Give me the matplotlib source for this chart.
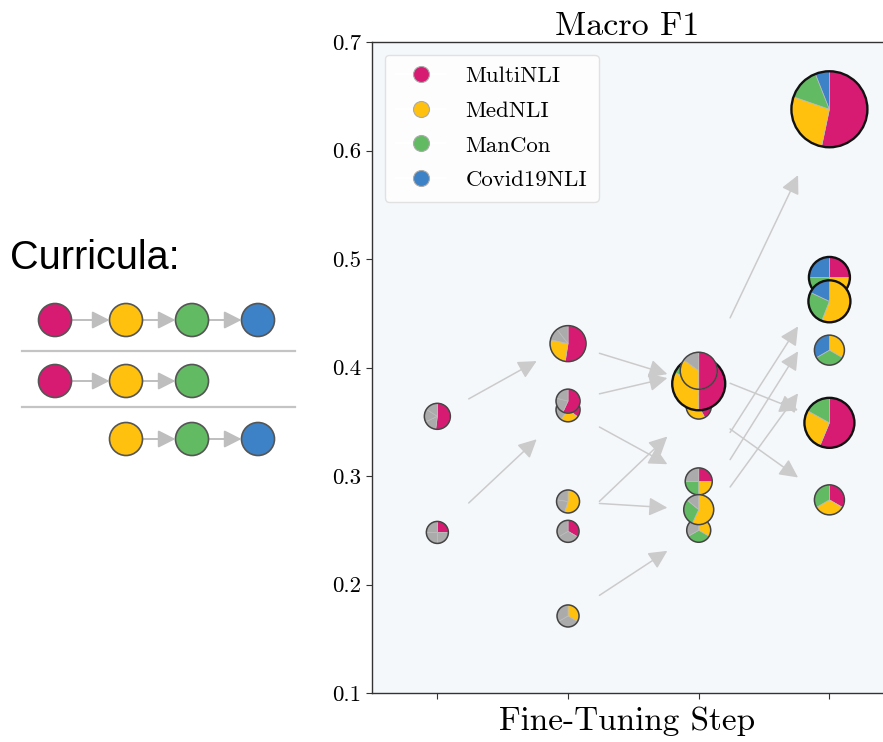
"""Curriculum fine-tuning: Macro F1 per step, pies show dataset mix."""

import matplotlib

matplotlib.use("Agg")

import matplotlib.pyplot as plt
from matplotlib.lines import Line2D
from matplotlib.patches import Circle, FancyArrowPatch, Wedge
from matplotlib.transforms import Affine2D, ScaledTranslation

plt.rcParams["font.family"] = "serif"
plt.rcParams["font.serif"] = ["cmr10", "DejaVu Serif"]
plt.rcParams["axes.formatter.use_mathtext"] = True
plt.rcParams["mathtext.fontset"] = "cm"

# datasets and colours
DATASETS = ["MultiNLI", "MedNLI", "ManCon", "Covid19NLI"]
COLORS = {
    "MultiNLI": "#D81B72",
    "MedNLI": "#FFC10E",
    "ManCon": "#62BB62",
    "Covid19NLI": "#3D82C6",
    None: "#ABABAB",
}

# curricula shown on the left (start column, sequence)
CURRICULA = [
    (0, ["MultiNLI", "MedNLI", "ManCon", "Covid19NLI"]),
    (0, ["MultiNLI", "MedNLI", "ManCon"]),
    (1, ["MedNLI", "ManCon", "Covid19NLI"]),
]

# one pie per model; listed in drawing order
PIE_STEP = [1, 1,
            2, 2, 2, 2, 2, 2,
            3, 3, 3, 3, 3, 3,
            4, 4, 4, 4, 4, 4]
PIE_F1 = [0.355, 0.248,
          0.422, 0.361, 0.369, 0.2765, 0.249, 0.171,
          0.364, 0.385, 0.397, 0.295, 0.250, 0.269,
          0.638, 0.483, 0.461, 0.416, 0.349, 0.278]
PIE_SIZE = [13, 11,
            18, 12, 12, 11.5, 11, 11,
            12.5, 26.5, 18.5, 13.5, 12, 15,
            38, 20.5, 21, 15, 25, 15]
PIE_FRACS = [
    [0.52, 0.16, 0.16, 0.16], [0.25, 0.25, 0.25, 0.25],
    [0.525, 0.26, 0.11, 0.105], [0.35, 0.25, 0.2, 0.2], [0.57, 0.22, 0.21],
    [0.55, 0.225, 0.225], [1 / 3, 1 / 3, 1 / 3], [1 / 3, 1 / 3, 1 / 3],
    [0.42, 0.3, 0.28], [0.5, 0.32, 0.1, 0.08], [0.5, 0.35, 0.15],
    [0.25, 0.25, 0.25, 0.25], [1 / 3, 1 / 3, 1 / 3], [0.57, 0.29, 0.14],
    [0.533, 0.27, 0.137, 0.06], [0.25, 0.25, 0.25, 0.25], [0.56, 0.26, 0.18],
    [1 / 3, 1 / 3, 1 / 3], [0.5625, 0.268, 0.1695], [1 / 3, 1 / 3, 1 / 3],
]
PIE_SETS = [
    ["MultiNLI", None, None, None], ["MultiNLI", None, None, None],
    ["MultiNLI", "MedNLI", None, None], ["MultiNLI", "MedNLI", None, None],
    ["MultiNLI", None, None],
    ["MedNLI", None, None], ["MultiNLI", None, None], ["MedNLI", None, None],
    ["MultiNLI", "MedNLI", None], ["MultiNLI", "MedNLI", "ManCon", None],
    ["MultiNLI", "MedNLI", None],
    ["MultiNLI", "MedNLI", "ManCon", None], ["MedNLI", "ManCon", None],
    ["MedNLI", "ManCon", None],
    ["MultiNLI", "MedNLI", "ManCon", "Covid19NLI"],
    ["MultiNLI", "MedNLI", "ManCon", "Covid19NLI"],
    ["MedNLI", "ManCon", "Covid19NLI"], ["MedNLI", "ManCon", "Covid19NLI"],
    ["MultiNLI", "MedNLI", "ManCon"], ["MultiNLI", "MedNLI", "ManCon"],
]

# transitions between models (indices into the pie lists)
ARROWS = [
    (0, 2), (1, 3),
    (2, 9), (4, 10), (3, 11), (6, 8), (5, 13), (7, 12),
    (9, 14), (11, 15), (13, 16), (12, 17), (10, 18), (8, 19),
]

ARROW_GRAY = "#CBCBCB"

fig = plt.figure(figsize=(8.83, 7.42), dpi=100, facecolor="white")

# ---- left panel: curricula sketch, in pixel coordinates
left = fig.add_axes([0, 0, 1, 1], zorder=0)
left.set_xlim(0, 883)
left.set_ylim(742, 0)
left.set_axis_off()
left.patch.set_alpha(0)

left.text(10, 258, "Curricula:", fontsize=28.5, family="Liberation Sans",
          va="center", ha="left")
col_x = [55, 126, 192, 258]
row_y = [320, 381, 439]
circle_r = 16.5
for (start, seq), y in zip(CURRICULA, row_y):
    xs = col_x[start:start + len(seq)]
    for x0, x1 in zip(xs[:-1], xs[1:]):
        left.add_patch(FancyArrowPatch(
            (x0 + circle_r, y), (x1 - circle_r, y),
            arrowstyle="-|>,head_length=0.75,head_width=0.38",
            mutation_scale=14, color="#BEBEBE", lw=1.4,
            shrinkA=0, shrinkB=0))
    for x, name in zip(xs, seq):
        left.add_patch(Circle((x, y), circle_r, facecolor=COLORS[name],
                              edgecolor="#555555", lw=1.2))
for y in (351, 407):
    left.plot([22, 295], [y, y], color="#C4C4C4", lw=1.6)

# ---- main chart
ax = fig.add_axes([372 / 883, 1 - 693 / 742, 1 - 372 / 883, (693 - 42) / 742],
                  zorder=1)
ax.set_facecolor("#F5F8FB")
ax.set_xlim(0.5, 4.41)
ax.set_ylim(0.1, 0.7)

for (a, b) in ARROWS:
    x0, y0 = PIE_STEP[a], PIE_F1[a]
    x1, y1 = PIE_STEP[b], PIE_F1[b]
    p0 = (x0 + 0.24 * (x1 - x0), y0 + 0.24 * (y1 - y0))
    p1 = (x0 + 0.76 * (x1 - x0), y0 + 0.76 * (y1 - y0))
    ax.annotate("", xy=p1, xytext=p0,
                arrowprops=dict(arrowstyle="-|>,head_length=0.8,head_width=0.4",
                                mutation_scale=14, color=ARROW_GRAY, lw=1.1,
                                shrinkA=0, shrinkB=0),
                zorder=2)

px = Affine2D().scale(fig.dpi / 100)
for i, (step, f1, size, fracs, sets) in enumerate(
        zip(PIE_STEP, PIE_F1, PIE_SIZE, PIE_FRACS, PIE_SETS)):
    trans = px + ScaledTranslation(step, f1, ax.transData)
    z = 3 + i * 0.01
    theta = 90.0
    for frac, name in zip(fracs, sets):
        t1 = theta - frac * 360
        ax.add_patch(Wedge((0, 0), size, t1, theta, transform=trans,
                           facecolor=COLORS[name], edgecolor="#BDBDBD",
                           lw=0.5, zorder=z))
        theta = t1
    edge_lw = 1.7 if size >= 20 else 1.1
    edge_c = "#111111" if size >= 20 else "#444444"
    ax.add_patch(Circle((0, 0), size, transform=trans, fill=False,
                        edgecolor=edge_c, lw=edge_lw, zorder=z + 0.005))

handles = [
    Line2D([0], [0], color="white", lw=1.5, marker="o", markersize=11.5,
           markerfacecolor=COLORS[d], markeredgecolor="#AAAAAA",
           markeredgewidth=0.8, label=d)
    for d in DATASETS
]
leg = ax.legend(handles=handles, loc="upper left", fontsize=16.5,
                labelspacing=0.64, handlelength=2.14, handletextpad=0.9,
                borderpad=0.5, borderaxespad=0.55, framealpha=0.85,
                fancybox=True)
leg.get_frame().set_edgecolor("#DDDDDD")
leg.set_zorder(5)

ax.set_xticks([1, 2, 3, 4])
ax.set_xticklabels([])
ax.set_yticks([0.1, 0.2, 0.3, 0.4, 0.5, 0.6, 0.7])
ax.set_yticklabels(["0.1", "0.2", "0.3", "0.4", "0.5", "0.6", "0.7"])
ax.tick_params(axis="both", labelsize=16.5, length=4, color="#333333")
ax.set_title("Macro F1", fontsize=24.5, pad=5)
ax.set_xlabel("Fine-Tuning Step", fontsize=24, labelpad=2)
for spine in ("left", "bottom", "top"):
    ax.spines[spine].set_color("#333333")
    ax.spines[spine].set_linewidth(1.0)
ax.spines["right"].set_visible(False)

fig.savefig("out.png", dpi=100, facecolor="white")
